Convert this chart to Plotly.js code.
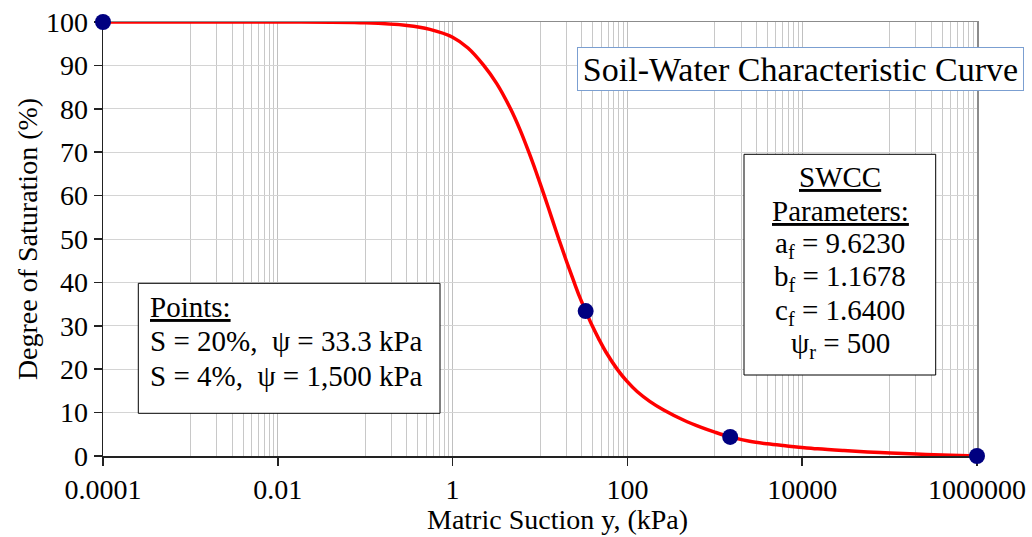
<!DOCTYPE html>
<html>
<head>
<meta charset="utf-8">
<script src="https://cdn.plot.ly/plotly-3.0.1.min.js"></script>
<style>
  html, body { margin: 0; padding: 0; background: #fff; }
  #chart { width: 1032px; height: 537px; }
</style>
</head>
<body>
<div id="chart"></div>
<script>
// ---- data ----
const suction = [0.0001, 0.01, 0.1, 0.3, 0.55, 1.0, 1.5, 2.27, 3.2, 4.6, 5.9, 7.45, 9.0, 11.2, 13.5, 16.4, 20, 24.5, 28.5, 33.3, 39.6, 47, 57, 77, 98, 130, 180, 260, 437, 700, 1000, 1500, 2500, 4000, 6080, 8650, 15000, 30000, 77600, 200000, 500000, 1000000];
const saturation = [100, 100, 99.8, 99.2, 98.3, 96.5, 94.0, 90.0, 85.8, 80.0, 75.2, 70.0, 65.5, 60.0, 55.1, 50.0, 45.0, 40.1, 36.6, 33.4, 30.0, 27.0, 23.9, 19.9, 17.3, 14.8, 12.6, 10.6, 8.3, 6.6, 5.5, 4.4, 3.4, 2.8, 2.4, 2.1, 1.65, 1.25, 0.8, 0.45, 0.18, 0];
const pointSuction = [0.0001, 33.3, 1500, 1000000];
const pointSaturation = [100, 33.4, 4.4, 0];
const xTickVals = [0.0001, 0.01, 1, 100, 10000, 1000000];
const xTickText = ['0.0001', '0.01', '1', '100', '10000', '1000000'];
const minorDecades = [0.001, 0.1, 10, 1000, 100000];
const titleText = 'Soil-Water Characteristic Curve';
const xTitle = 'Matric Suction y, (kPa)';
const yTitle = 'Degree of Saturation (%)';
const pointsLines = ['<u>Points:</u>', 'S = 20%,  ψ = 33.3 kPa', 'S = 4%,  ψ = 1,500 kPa'];
const paramLines = ['<u>SWCC</u>', '<u>Parameters:</u>', 'a<sub>f</sub> = 9.6230', 'b<sub>f</sub> = 1.1678', 'c<sub>f</sub> = 1.6400', 'ψ<sub>r</sub> = 500'];

const minorVals = [];
minorDecades.forEach(d => { for (let k = 1; k <= 9; k++) minorVals.push(k * d); });

const L = 103, R = 55, T = 22, B = 81, W = 1032, H = 537;
const PW = W - L - R, PH = H - T - B;
const px = x => (x - L) / PW;
const py = y => (H - B - y) / PH;

const FONT = 'Liberation Serif, Times New Roman, serif';

const annotations = [];
annotations.push({
  text: titleText, xref: 'paper', yref: 'paper', x: px(800.5), y: py(68.7),
  xanchor: 'center', yanchor: 'middle', showarrow: false,
  font: {family: FONT, size: 34, color: '#000'},
  bgcolor: '#fff', bordercolor: '#7b9fd1', borderwidth: 1, borderpad: 0,
  width: 445, height: 42
});
const pointsCenters = [307.2, 341.2, 375.5];
pointsLines.forEach((t, i) => annotations.push({
  text: t, xref: 'paper', yref: 'paper', x: px(148), y: py(pointsCenters[i]),
  xanchor: 'left', yanchor: 'middle', showarrow: false,
  font: {family: FONT, size: 29, color: '#000'}
}));
const paramCenters = [177.2, 210.5, 245.0, 278.3, 311.6, 345.0];
paramLines.forEach((t, i) => annotations.push({
  text: t, xref: 'paper', yref: 'paper', x: px(840), y: py(paramCenters[i]),
  xanchor: 'center', yanchor: 'middle', showarrow: false,
  font: {family: FONT, size: 29, color: '#000'}
}));
annotations.push({
  text: xTitle, xref: 'paper', yref: 'paper', x: px(557), y: py(519),
  xanchor: 'center', yanchor: 'middle', showarrow: false,
  font: {family: FONT, size: 28, color: '#000'}
});

const shapes = [
  {type: 'rect', xref: 'paper', yref: 'paper', x0: px(138.3), x1: px(440), y0: py(413.3), y1: py(283.3),
   fillcolor: '#fff', line: {color: '#000', width: 1}, layer: 'above'},
  {type: 'rect', xref: 'paper', yref: 'paper', x0: px(744), x1: px(935.7), y0: py(375), y1: py(154.3),
   fillcolor: '#fff', line: {color: '#000', width: 1}, layer: 'above'}
];

const traces = [
  {x: suction, y: saturation, type: 'scatter', mode: 'lines',
   line: {color: '#ff0000', width: 3.5, shape: 'spline', smoothing: 1},
   cliponaxis: false, hoverinfo: 'skip', showlegend: false},
  {x: pointSuction, y: pointSaturation, type: 'scatter', mode: 'markers',
   marker: {color: '#000080', size: 16}, cliponaxis: false, showlegend: false},
  // empty trace so the top/right frame axes exist
  {x: [], y: [], xaxis: 'x2', yaxis: 'y2', type: 'scatter', mode: 'markers', showlegend: false, hoverinfo: 'skip'}
];

const layout = {
  width: W, height: H,
  margin: {l: L, r: R, t: T, b: B, pad: 0},
  paper_bgcolor: '#fff', plot_bgcolor: '#fff',
  font: {family: FONT, color: '#000'},
  showlegend: false,
  xaxis: {
    type: 'log', range: [-4, 6],
    tickmode: 'array', tickvals: xTickVals, ticktext: xTickText,
    ticks: 'outside', ticklen: 8, tickwidth: 1.5, tickcolor: '#222',
    showline: true, linecolor: '#222', linewidth: 1.5, layer: 'below traces',
    showgrid: true, gridcolor: '#c0c0c0', gridwidth: 1,
    minor: {tickmode: 'array', tickvals: minorVals, showgrid: true, gridcolor: '#c8c8c8', gridwidth: 1, ticks: ''},
    zeroline: false,
    tickfont: {family: FONT, size: 28, color: '#000'}
  },
  yaxis: {
    range: [0, 100], tickmode: 'linear', tick0: 0, dtick: 10,
    ticks: 'outside', ticklen: 8, tickwidth: 1.5, tickcolor: '#222',
    showline: true, linecolor: '#222', linewidth: 1.5, layer: 'below traces',
    showgrid: true, gridcolor: '#d4d4d4', gridwidth: 1,
    zeroline: false,
    tickfont: {family: FONT, size: 28, color: '#000'},
    title: {text: yTitle, font: {family: FONT, size: 28, color: '#000'}, standoff: 0}
  },
  xaxis2: {
    type: 'log', range: [-4, 6], overlaying: 'x', side: 'top', anchor: 'y2',
    showline: true, linecolor: '#8c8c8c', linewidth: 1.5, layer: 'below traces',
    showgrid: false, zeroline: false, showticklabels: false, ticks: ''
  },
  yaxis2: {
    range: [0, 100], overlaying: 'y', side: 'right', anchor: 'x2',
    showline: true, linecolor: '#8c8c8c', linewidth: 1.5, layer: 'below traces',
    showgrid: false, zeroline: false, showticklabels: false, ticks: ''
  },
  shapes: shapes,
  annotations: annotations
};

Plotly.newPlot('chart', traces, layout, {staticPlot: true, displayModeBar: false});
</script>
</body>
</html>
